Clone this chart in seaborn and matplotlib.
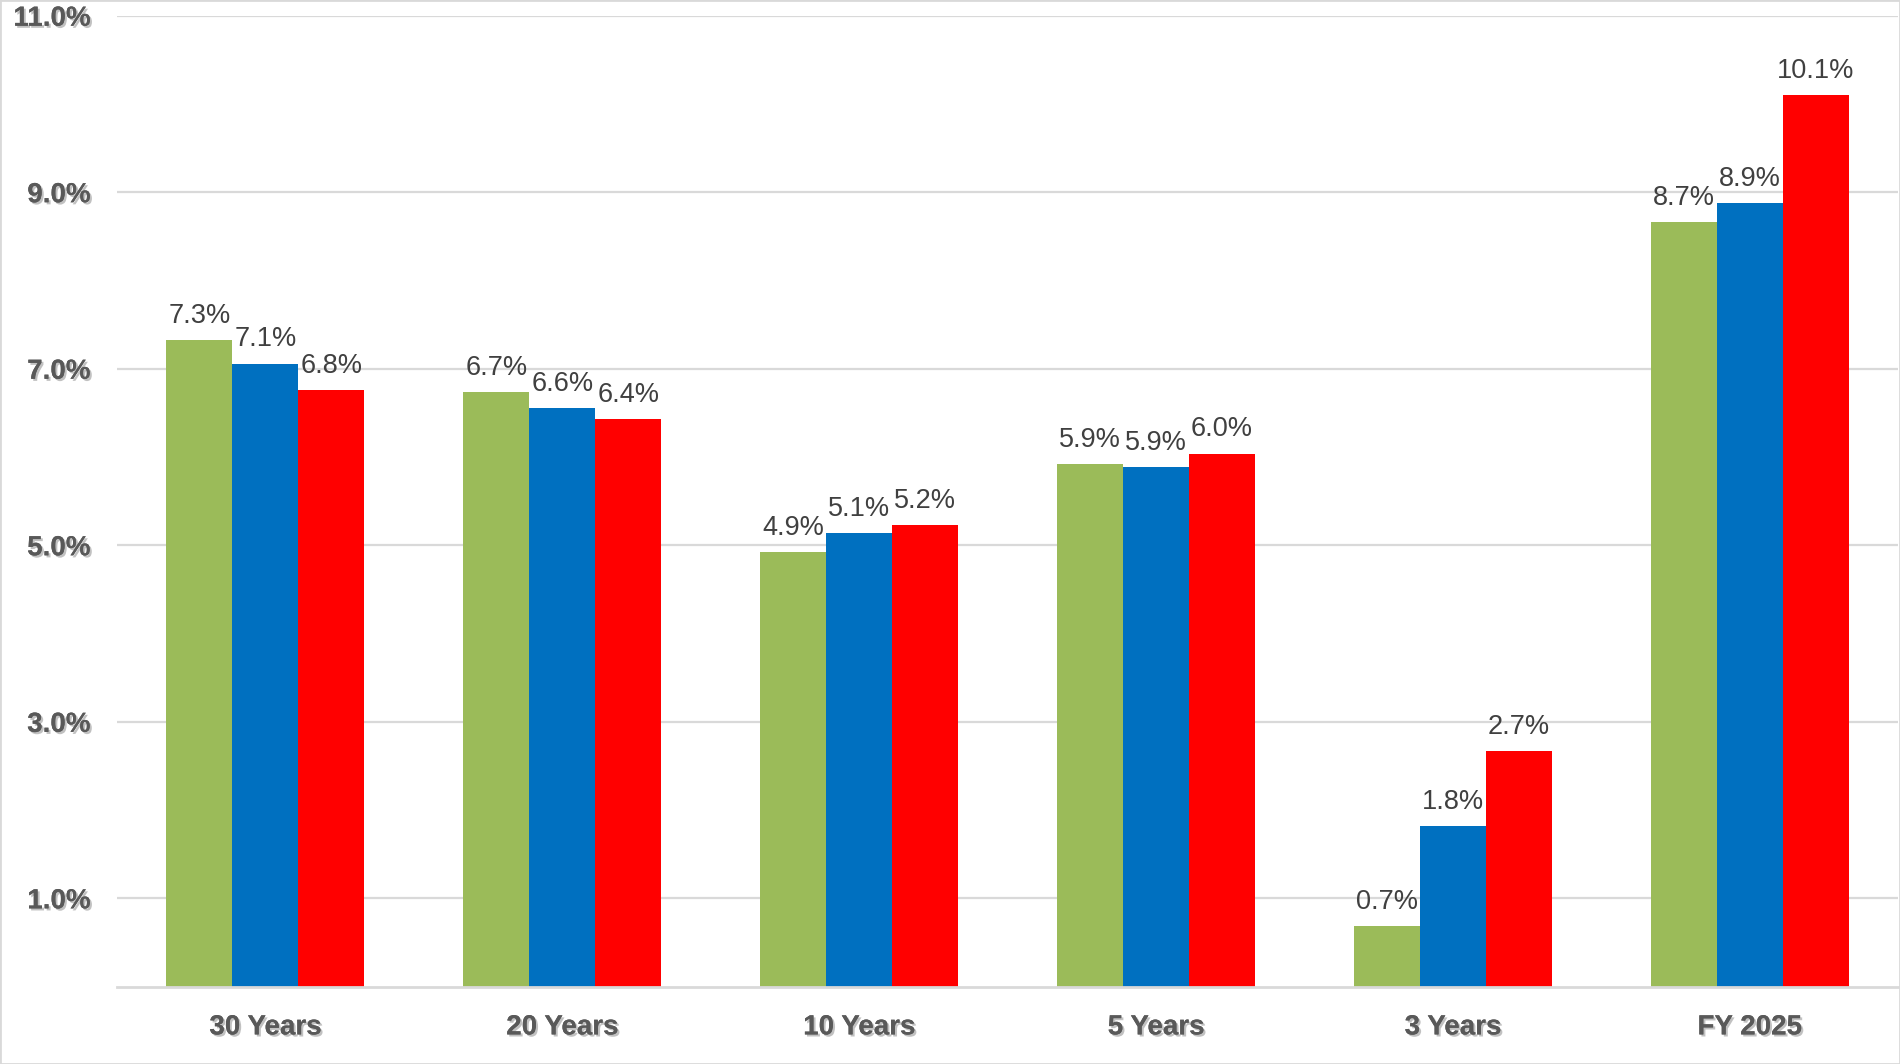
import matplotlib
matplotlib.use("Agg")
import matplotlib.pyplot as plt
import matplotlib.patheffects as pe
import matplotlib.patches as mpatches
import seaborn as sns
import pandas as pd

categories = ["30 Years", "20 Years", "10 Years", "5 Years", "3 Years", "FY 2025"]
series_names = ["Series 1", "Series 2", "Series 3"]
series1 = [7.33, 6.74, 4.92, 5.92, 0.69, 8.66]
series2 = [7.06, 6.56, 5.14, 5.89, 1.82, 8.88]
series3 = [6.76, 6.43, 5.23, 6.04, 2.67, 10.10]
y_ticks = [1, 3, 5, 7, 9, 11]
colors = ["#9BBB59", "#0070C0", "#FF0000"]

rows = []
for name, vals in zip(series_names, [series1, series2, series3]):
    for c, v in zip(categories, vals):
        rows.append({"Period": c, "Series": name, "Return": v})
df = pd.DataFrame(rows)

sns.set_theme(style="white")
plt.rcParams["font.family"] = ["Liberation Sans", "DejaVu Sans"]

fig = plt.figure(figsize=(19, 10.64), dpi=100)
ax = fig.add_axes([0.0616, 0.0727, 0.9375, 0.9125])

sns.barplot(data=df, x="Period", y="Return", hue="Series", order=categories,
            hue_order=series_names, palette=colors, width=0.667, saturation=1,
            legend=False, ax=ax, errorbar=None, linewidth=0)

ax.set_ylim(0, 11)
ax.set_xlim(-0.5, len(categories) - 0.5)
ax.set_yticks(y_ticks)
ax.set_yticklabels([f"{t:.1f}%" for t in y_ticks])
ax.yaxis.grid(True, color="#d9d9d9", linewidth=1.6)
ax.set_axisbelow(True)
for s in ["top", "right", "left"]:
    ax.spines[s].set_visible(False)
ax.spines["bottom"].set_color("#d9d9d9")
ax.spines["bottom"].set_linewidth(2)
ax.set_xlabel("")
ax.set_ylabel("")
ax.tick_params(axis="both", length=0)
ax.tick_params(axis="y", pad=19)
ax.tick_params(axis="x", pad=20)

shadow = [pe.withSimplePatchShadow(offset=(1.5, -1.5), shadow_rgbFace="#999999", alpha=0.6), pe.Normal()]
for lab in ax.get_yticklabels() + ax.get_xticklabels():
    lab.set_family(["Liberation Sans Narrow", "DejaVu Sans Condensed", "Liberation Sans", "DejaVu Sans"])
    lab.set_fontweight("bold")
    lab.set_fontsize(20)
    lab.set_color("#595959")
    lab.set_path_effects(shadow)

for cont in ax.containers:
    ax.bar_label(cont, labels=[f"{v:.1f}%" for v in cont.datavalues], padding=8,
                 fontsize=19.5, color="#404040")

fig.patches.append(mpatches.Rectangle((0, 0), 1, 1, transform=fig.transFigure,
                                      fill=False, edgecolor="#d9d9d9", linewidth=2))

fig.savefig("out.png", dpi=100)
